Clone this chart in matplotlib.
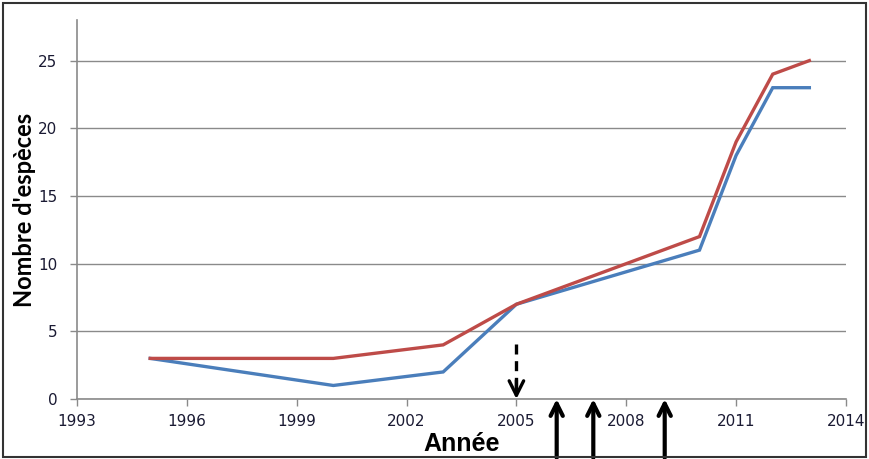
import matplotlib

matplotlib.use('Agg')
import matplotlib.pyplot as plt
from matplotlib.patches import Rectangle

# Données
annees_bleu = [1995, 2000, 2003, 2005, 2010, 2011, 2012, 2013]
especes_bleu = [3, 1, 2, 7, 11, 18, 23, 23]
annees_rouge = [1995, 2000, 2003, 2005, 2010, 2011, 2012, 2013]
especes_rouge = [3, 3, 4, 7, 12, 19, 24, 25]

x_ticks = [1993, 1996, 1999, 2002, 2005, 2008, 2011, 2014]
y_ticks = [0, 5, 10, 15, 20, 25]

annee_fleche_bas = 2005
annees_fleches_haut = [2006.1, 2007.1, 2009.05]

plt.rcParams['font.family'] = ['DejaVu Sans']

fig = plt.figure(figsize=(8.69, 4.59), dpi=100)
ax = fig.add_axes([0.0886, 0.1307, 0.8849, 0.8257])

# cadre autour de la figure
fig.patches.append(Rectangle((0.004, 0.005), 0.992, 0.988, transform=fig.transFigure,
                             fill=False, edgecolor='#333333', linewidth=1.5))

ax.plot(annees_bleu, especes_bleu, color='#4A7EBB', linewidth=2.4, solid_joinstyle='miter', zorder=3)
ax.plot(annees_rouge, especes_rouge, color='#BE4B48', linewidth=2.4, solid_joinstyle='miter', zorder=4)

ax.set_xlim(1993, 2014)
ax.set_ylim(0, 28)
ax.set_xticks(x_ticks)
ax.set_yticks(y_ticks)

for s in ['top', 'right']:
    ax.spines[s].set_visible(False)
for s in ['left', 'bottom']:
    ax.spines[s].set_color('#8a8a8a')
    ax.spines[s].set_linewidth(1.2)

ax.grid(axis='y', color='#8a8a8a', linewidth=1.0)
ax.set_axisbelow(True)
ax.tick_params(axis='both', colors='#8a8a8a', labelcolor='#1a1a33', labelsize=11,
               length=5, width=1.0, direction='out')
ax.tick_params(axis='x', pad=6)
ax.tick_params(axis='y', pad=9)

ax.set_ylabel("Nombre d'espèces", fontsize=17, fontweight='bold', labelpad=2,
              family=['Lato', 'DejaVu Sans'])
ax.set_xlabel("Année", fontsize=18, fontweight='bold', labelpad=2,
              family=['Liberation Sans', 'DejaVu Sans'])

# flèche pointillée vers le bas
ax.plot([annee_fleche_bas, annee_fleche_bas], [4.1, 0.6], color='black', linewidth=2.4,
        linestyle=(0, (3, 2)), zorder=5)
ax.annotate('', xy=(annee_fleche_bas, 0), xytext=(annee_fleche_bas, 1.4),
            arrowprops=dict(arrowstyle='->', lw=2.4, color='black', mutation_scale=26,
                            shrinkA=0, shrinkB=0),
            zorder=6)

# flèches pleines vers le haut, sous l'axe
for a in annees_fleches_haut:
    ax.annotate('', xy=(a, 0.0), xycoords=('data', 'axes fraction'),
                xytext=(a, -0.155), textcoords=('data', 'axes fraction'),
                arrowprops=dict(arrowstyle='->', lw=3, color='black', mutation_scale=22,
                                shrinkA=0, shrinkB=0),
                annotation_clip=False)

fig.savefig('out.png', dpi=100)
